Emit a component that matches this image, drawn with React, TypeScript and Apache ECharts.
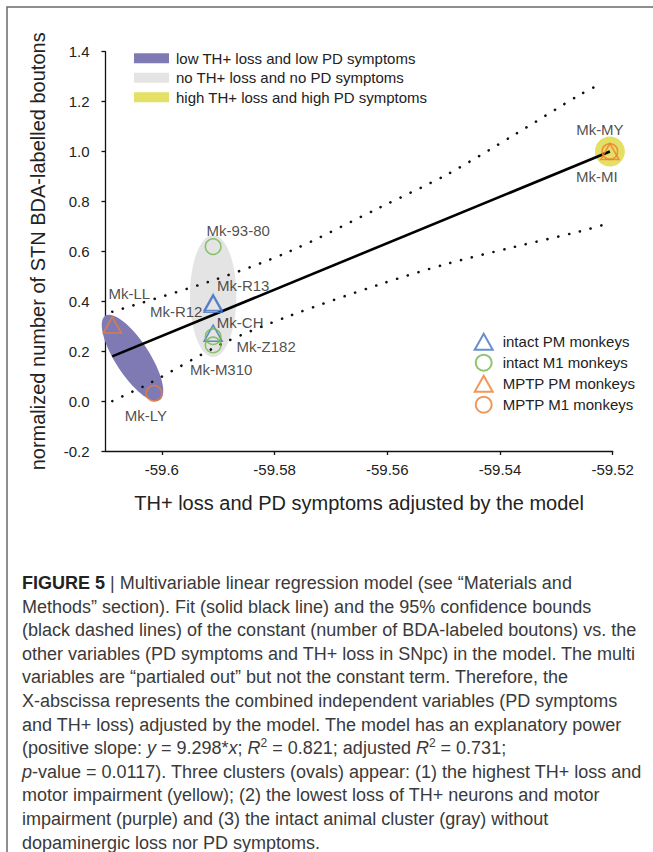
import React, { useEffect, useRef } from 'react';
import * as echarts from 'echarts';

// ---------- data ----------
const xTickValues = [-59.6, -59.58, -59.56, -59.54, -59.52];

const intactPMNames = ['Mk-R13', 'Mk-R12', 'Mk-CH'];
const intactPMValues = [[-59.5909, 0.395], [-59.5909, 0.388], [-59.5909, 0.272]];
const intactM1Names = ['Mk-93-80', 'Mk-Z182', 'Mk-M310'];
const intactM1Values = [[-59.5909, 0.619], [-59.5909, 0.258], [-59.5909, 0.225]];
const mptpPMNames = ['Mk-LL', 'Mk-MY'];
const mptpPMValues = [[-59.6088, 0.305], [-59.5205, 1.0]];
const mptpM1Names = ['Mk-LY', 'Mk-MI'];
const mptpM1Values = [[-59.6014, 0.031], [-59.5205, 1.0]];

const fitLine = [[-59.6088, 0.179], [-59.5205, 1.0]];
const upperBound = [
  [-59.6088, 0.358], [-59.5909, 0.484], [-59.5774, 0.599], [-59.5613, 0.776],
  [-59.5494, 0.908], [-59.5376, 1.065], [-59.5258, 1.228], [-59.5217, 1.276],
];
const lowerBound = [
  [-59.6088, 0.0], [-59.6022, 0.071], [-59.5891, 0.232], [-59.5774, 0.341],
  [-59.5613, 0.468], [-59.5494, 0.55], [-59.5376, 0.617], [-59.5258, 0.68], [-59.5217, 0.706],
];

const clusterNames = [
  'low TH+ loss and low PD symptoms',
  'no TH+ loss and no PD symptoms',
  'high TH+ loss and high PD symptoms',
];
// centre x, centre y, end of major semi-axis x, y, minor/major ratio
const clusterShapes = [
  [-59.6052, 0.173, -59.60036, 0.0045, 0.34],
  [-59.5909, 0.4215, -59.5909, 0.666, 0.38],
  [-59.5205, 1.0, -59.5205, 1.06, 1],
];

const seriesNames = ['intact PM monkeys', 'intact M1 monkeys', 'MPTP PM monkeys', 'MPTP M1 monkeys'];

const captionLines = [
  '{b|FIGURE 5} {n||} Multivariable linear regression model (see “Materials and',
  'Methods” section). Fit (solid black line) and the 95% confidence bounds',
  '(black dashed lines) of the constant (number of BDA-labeled boutons) vs. the',
  'other variables (PD symptoms and TH+ loss in SNpc) in the model. The multi',
  'variables are “partialed out” but not the constant term. Therefore, the',
  'X-abscissa represents the combined independent variables (PD symptoms',
  'and TH+ loss) adjusted by the model. The model has an explanatory power',
  '(positive slope: {i|y} = 9.298*{i|x}; {i|R}{s|2} = 0.821; adjusted {i|R}{s|2} = 0.731;',
  '{i|p}-value = 0.0117). Three clusters (ovals) appear: (1) the highest TH+ loss and',
  'motor impairment (yellow); (2) the lowest loss of TH+ neurons and motor',
  'impairment (purple) and (3) the intact animal cluster (gray) without',
  'dopaminergic loss nor PD symptoms.',
];

// ---------- styles ----------
const FONT = 'Liberation Sans, Arial, Helvetica, sans-serif';
const TEXT = '#222';
const CAP = '#3a3a3a';
const clusterColors = ['#807ab4', '#e4e4e4', '#e4e066'];
const BLUE = '#4472c4';
const GREEN = '#70b94a';
const ORANGE = '#ed7d31';
const labelOffsets: Record<string, [number, number]> = {
  'Mk-93-80': [25, -16],
  'Mk-R13': [30, -17],
  'Mk-R12': [-37, 7],
  'Mk-CH': [27, -11],
  'Mk-Z182': [53, 10],
  'Mk-M310': [8, 25],
  'Mk-LL': [17, -31],
  'Mk-LY': [-8, 22],
  'Mk-MY': [-10, -22],
  'Mk-MI': [-13, 25],
};
const CIRCLE_ICON = 'path://M0,8A8,8,0,1,1,16,8A8,8,0,1,1,0,8Z';

function points(names: string[], values: number[][]) {
  return names.map((n, i) => ({
    name: n,
    value: values[i],
    label: {
      show: true,
      formatter: n,
      position: 'inside',
      offset: labelOffsets[n],
      color: TEXT,
      fontSize: 15,
      fontFamily: FONT,
    },
  }));
}

function scatter(name: string, names: string[], values: number[][], symbol: string, size: any, color: string) {
  return {
    type: 'scatter',
    name,
    data: points(names, values),
    symbol,
    symbolSize: size,
    itemStyle: { color: 'rgba(0,0,0,0)', borderColor: color, borderWidth: 1.6 },
    z: 5,
    silent: true,
  };
}

export default function App() {
  const ref = useRef<HTMLDivElement>(null);
  useEffect(() => {
    if (!ref.current) return;
    const chart = echarts.init(ref.current, null, { renderer: 'svg' });

    const clusterSeries = clusterNames.map((name, i) => ({
      type: 'custom',
      name,
      coordinateSystem: 'cartesian2d',
      data: [clusterShapes[i]],
      encode: { x: [0, 2], y: [1, 3] },
      itemStyle: { color: clusterColors[i] },
      z: 1,
      silent: true,
      renderItem: (params: any, api: any) => {
        const c = api.coord([api.value(0), api.value(1)]);
        const e = api.coord([api.value(2), api.value(3)]);
        const dx = e[0] - c[0];
        const dy = e[1] - c[1];
        const a = Math.hypot(dx, dy);
        const b = a * api.value(4);
        const ang = Math.atan2(dy, dx);
        return {
          type: 'ellipse',
          x: c[0],
          y: c[1],
          rotation: -ang,
          shape: { cx: 0, cy: 0, rx: a, ry: b },
          style: { fill: api.visual('color') },
        };
      },
    }));

    const dotted = {
      color: '#111',
      width: 2.6,
      type: [0.1, 11],
      cap: 'round',
    };

    const graphics: any[] = [
      {
        type: 'rect',
        shape: { x: 7, y: 7, width: 800, height: 900 },
        style: { fill: 'none', stroke: '#6a6a6a', lineWidth: 1.5 },
        silent: true,
      },
      ...captionLines.map((t, i) => ({
        type: 'text',
        x: 22,
        y: 583 + i * 23.6,
        style: {
          text: t,
          fontSize: 18,
          fontFamily: FONT,
          fill: CAP,
          verticalAlign: 'middle',
          lineHeight: 22,
          rich: {
            b: { fontWeight: 'bold', fontSize: 18, fontFamily: FONT, fill: '#222' },
            n: { fontSize: 18, fontFamily: FONT, fill: CAP },
            i: { fontStyle: 'italic', fontSize: 18, fontFamily: FONT, fill: CAP },
            s: { fontSize: 12, fontFamily: FONT, fill: CAP, verticalAlign: 'top', lineHeight: 12 },
          },
        },
        silent: true,
      })),
    ];

    chart.setOption({
      animation: false,
      backgroundColor: '#ffffff',
      grid: { left: 105.5, right: 40.3, top: 51.7, bottom: 401, containLabel: false },
      xAxis: {
        type: 'value',
        min: -59.61,
        max: -59.52,
        name: 'TH+ loss and PD symptoms adjusted by the model',
        nameLocation: 'middle',
        nameGap: 42,
        nameTextStyle: { fontSize: 20, color: TEXT, fontFamily: FONT },
        axisLine: { show: true, onZero: false, lineStyle: { color: '#111', width: 1.3 } },
        axisTick: { show: true, length: 4, customValues: xTickValues, lineStyle: { color: '#111', width: 1.3 } },
        axisLabel: {
          show: true,
          customValues: xTickValues,
          margin: 11,
          fontSize: 15,
          color: TEXT,
          fontFamily: FONT,
          formatter: (v: number) => String(Math.round(v * 100) / 100),
        },
        splitLine: { show: false },
      },
      yAxis: {
        type: 'value',
        min: -0.2,
        max: 1.4,
        interval: 0.2,
        name: 'normalized number of STN BDA-labelled boutons',
        nameLocation: 'middle',
        nameGap: 58,
        nameTextStyle: { fontSize: 20, color: TEXT, fontFamily: FONT },
        axisLine: { show: true, onZero: false, lineStyle: { color: '#111', width: 1.3 } },
        axisTick: { show: true, length: 4, lineStyle: { color: '#111', width: 1.3 } },
        axisLabel: {
          margin: 16,
          fontSize: 15,
          color: TEXT,
          fontFamily: FONT,
          formatter: (v: number) => v.toFixed(1),
        },
        splitLine: { show: false },
      },
      legend: [
        {
          data: clusterNames,
          orient: 'vertical',
          left: 129,
          top: 45.8,
          icon: 'rect',
          itemWidth: 35,
          itemHeight: 10,
          itemGap: 4.5,
          selectedMode: false,
          textStyle: { fontSize: 15, color: TEXT, fontFamily: FONT, padding: [0, 0, 0, 2] },
        },
        {
          data: [
            { name: seriesNames[0] },
            { name: seriesNames[1], icon: CIRCLE_ICON },
            { name: seriesNames[2] },
            { name: seriesNames[3], icon: CIRCLE_ICON },
          ],
          orient: 'vertical',
          left: 468.7,
          top: 327.7,
          itemWidth: 18,
          itemHeight: 16,
          itemGap: 3,
          selectedMode: false,
          textStyle: { fontSize: 15, color: TEXT, fontFamily: FONT, padding: [0, 0, 0, 5] },
        },
      ],
      graphic: graphics,
      series: [
        ...clusterSeries,
        {
          type: 'line',
          name: 'fit',
          data: fitLine,
          symbol: 'none',
          lineStyle: { color: '#000', width: 2.6 },
          z: 3,
          silent: true,
        },
        {
          type: 'line',
          name: 'upper 95% bound',
          data: upperBound,
          symbol: 'none',
          smooth: 0.3,
          lineStyle: dotted,
          z: 3,
          silent: true,
        },
        {
          type: 'line',
          name: 'lower 95% bound',
          data: lowerBound,
          symbol: 'none',
          smooth: 0.3,
          lineStyle: dotted,
          z: 3,
          silent: true,
        },
        scatter(seriesNames[0], intactPMNames, intactPMValues, 'triangle', [18, 16], BLUE),
        scatter(seriesNames[1], intactM1Names, intactM1Values, 'circle', 15.5, GREEN),
        scatter(seriesNames[2], mptpPMNames, mptpPMValues, 'triangle', [18, 16], ORANGE),
        scatter(seriesNames[3], mptpM1Names, mptpM1Values, 'circle', 15.5, ORANGE),
      ],
    });
    return () => chart.dispose();
  }, []);

  return (
    <div
      ref={ref}
      style={{ position: 'absolute', left: 0, top: 0, width: 653, height: 852, background: '#fff' }}
    />
  );
}
